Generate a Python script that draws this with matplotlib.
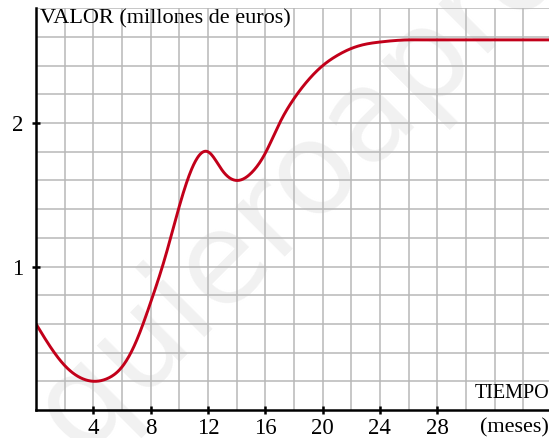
import numpy as np
import matplotlib
matplotlib.use("Agg")
import matplotlib.pyplot as plt

# Company value over time (millions of euros), sampled monthly
months = list(range(0, 37))
value = [0.60, 0.44, 0.31, 0.23, 0.20, 0.22, 0.30, 0.48, 0.75, 1.06,
         1.42, 1.71, 1.80, 1.67, 1.60, 1.65, 1.79, 2.00, 2.17, 2.30,
         2.40, 2.47, 2.52, 2.55, 2.565, 2.575, 2.58, 2.58, 2.58, 2.58,
         2.58, 2.58, 2.58, 2.58, 2.58, 2.58, 2.58]

x_ticks = [4, 8, 12, 16, 20, 24, 28]
y_ticks = [1, 2]
y_label = "VALOR (millones de euros)"
x_label_top = "TIEMPO"
x_label_bottom = "(meses)"
watermark = "quieroaprobar"


def natural_spline(x, y, xs):
    """Smooth natural cubic spline through the sampled points."""
    x = np.asarray(x, float)
    y = np.asarray(y, float)
    n = len(x)
    h = np.diff(x)
    A = np.zeros((n, n))
    b = np.zeros(n)
    A[0, 0] = A[-1, -1] = 1.0
    for i in range(1, n - 1):
        A[i, i - 1] = h[i - 1]
        A[i, i] = 2 * (h[i - 1] + h[i])
        A[i, i + 1] = h[i]
        b[i] = 3 * ((y[i + 1] - y[i]) / h[i] - (y[i] - y[i - 1]) / h[i - 1])
    c = np.linalg.solve(A, b)
    idx = np.clip(np.searchsorted(x, xs) - 1, 0, n - 2)
    dx = xs - x[idx]
    bb = (y[idx + 1] - y[idx]) / h[idx] - h[idx] * (2 * c[idx] + c[idx + 1]) / 3
    d = (c[idx + 1] - c[idx]) / (3 * h[idx])
    return y[idx] + bb * dx + c[idx] * dx ** 2 + d * dx ** 3


plt.rcParams["font.family"] = ["Liberation Serif", "DejaVu Serif"]

fig = plt.figure(figsize=(5.49, 4.38), dpi=100)
ax = fig.add_axes([0.0656, 0.064, 0.9344, 0.917])

x_max, y_max = 35.8, 2.8
ax.set_xlim(0, x_max)
ax.set_ylim(0, y_max)

# faint diagonal watermark behind everything
ax.text(0.037, -0.05, watermark, transform=ax.transAxes, rotation=45,
        rotation_mode="anchor", fontsize=92, color="#f1f1f1",
        ha="left", va="center", family=["DejaVu Sans"], zorder=0,
        clip_on=False)

# square grid: 2 months by 0.2 million
for gx in np.arange(2, x_max, 2):
    ax.axvline(gx, color="#b8b8b8", lw=1.1, zorder=1)
for gy in np.arange(0.2, y_max + 0.01, 0.2):
    ax.axhline(gy, color="#b8b8b8", lw=1.1, zorder=1)

xs = np.linspace(months[0], months[-1], 800)
ax.plot(xs, natural_spline(months, value, xs), color="#c2001a", lw=2.1,
        solid_capstyle="butt", zorder=3)

for side in ("top", "right"):
    ax.spines[side].set_visible(False)
for side in ("left", "bottom"):
    ax.spines[side].set_linewidth(1.8)
    ax.spines[side].set_color("black")
    ax.spines[side].set_zorder(4)

ax.set_xticks(x_ticks)
ax.set_yticks(y_ticks)
ax.set_xticklabels([str(t) for t in x_ticks])
ax.set_yticklabels([str(t) for t in y_ticks])
ax.tick_params(axis="both", direction="inout", length=6, width=1.8,
               labelsize=16.5, colors="black")
ax.tick_params(axis="x", pad=3)
ax.tick_params(axis="y", pad=6)

ax.text(0.008, 0.997, y_label, transform=ax.transAxes, fontsize=16,
        ha="left", va="top", zorder=5)
ax.text(1.0, 0.018, x_label_top, transform=ax.transAxes, fontsize=14.5,
        ha="right", va="bottom", zorder=5)
ax.text(1.0, -0.045, x_label_bottom, transform=ax.transAxes, fontsize=16,
        ha="right", va="center", zorder=5)

fig.savefig("out.png", dpi=100)
